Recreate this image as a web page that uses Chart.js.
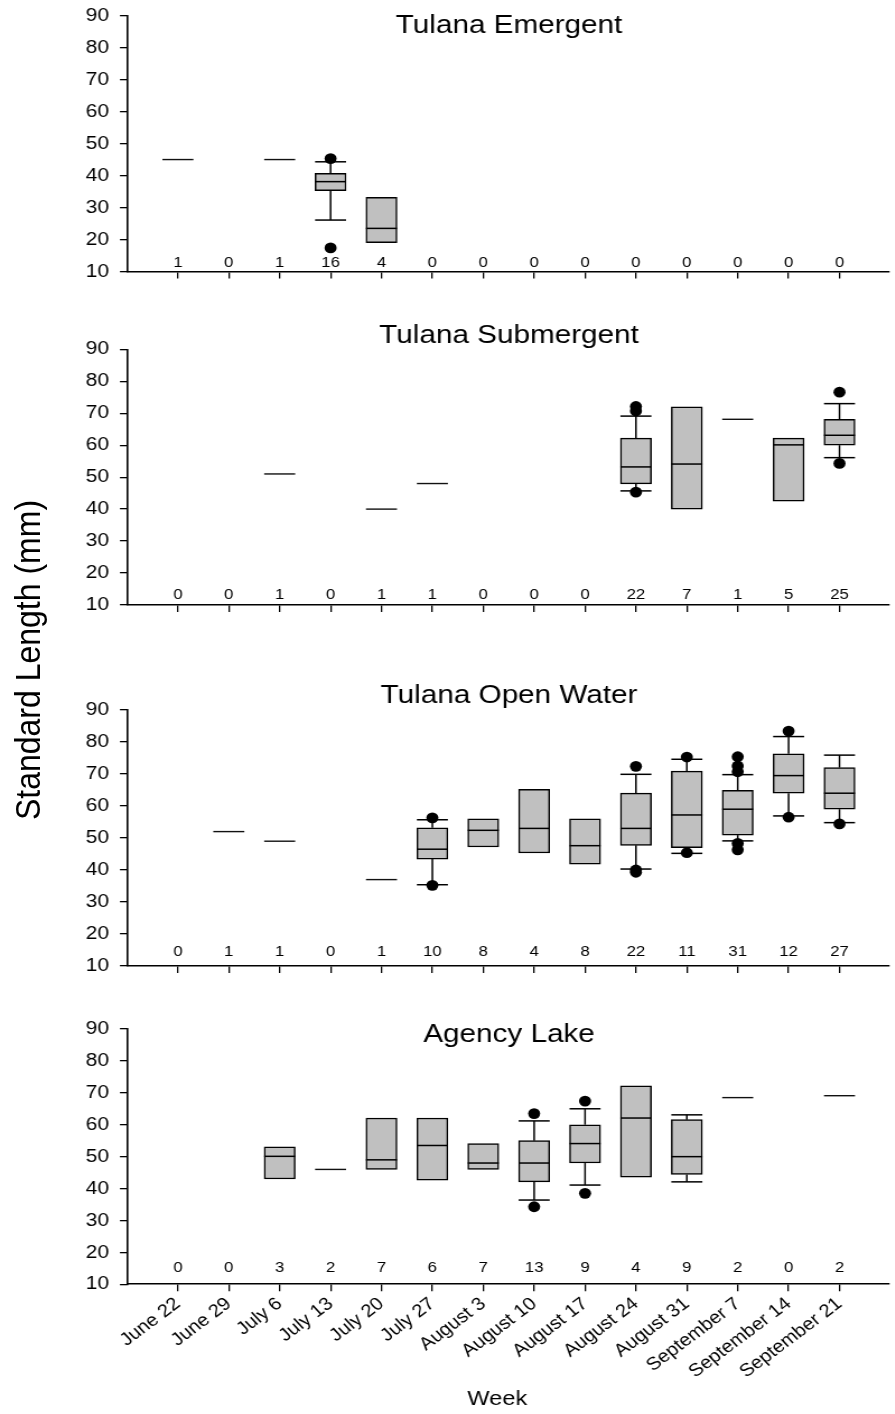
<!DOCTYPE html>
<html>
<head>
<meta charset="utf-8">
<title>Standard Length by Week</title>
<script src="https://cdn.jsdelivr.net/npm/chart.js@4.4.1/dist/chart.umd.min.js"></script>
<style>
  html, body { margin: 0; padding: 0; background: #fff; }
  body { width: 895px; height: 1414px; overflow: hidden; position: relative; }
  #wrap { position: absolute; left: 0; top: 0; width: 799px; height: 1414px;
          transform: scaleX(1.12); transform-origin: 0 0; }
  #wrap canvas { position: absolute; left: 0; }
  #ytitle { position: absolute; left: 25px; top: 660px; white-space: nowrap;
            font: 32px "Liberation Sans", Arial, sans-serif; color: #000;
            transform: translate(-50%, -50%) rotate(-90deg); }
</style>
</head>
<body>
<div id="wrap">
  <div id="ytitle">Standard Length (mm)</div>
</div>
<script>
// ---- data -------------------------------------------------------------
const weeks = ['June 22', 'June 29', 'July 6', 'July 13', 'July 20', 'July 27',
  'August 3', 'August 10', 'August 17', 'August 24', 'August 31',
  'September 7', 'September 14', 'September 21'];
const yTicks = [10, 20, 30, 40, 50, 60, 70, 80, 90];
const _ = null;

// Tulana Emergent
const emergentN      = [1, 0, 1, 16, 4, 0, 0, 0, 0, 0, 0, 0, 0, 0];
const emergentSingle = [45, _, 45, _, _, _, _, _, _, _, _, _, _, _];
const emergentLoW    = [_, _, _, 26.1, _, _, _, _, _, _, _, _, _, _];
const emergentQ1     = [_, _, _, 35.3, 19.0, _, _, _, _, _, _, _, _, _];
const emergentMed    = [_, _, _, 38.1, 23.5, _, _, _, _, _, _, _, _, _];
const emergentQ3     = [_, _, _, 40.7, 33.2, _, _, _, _, _, _, _, _, _];
const emergentHiW    = [_, _, _, 44.3, _, _, _, _, _, _, _, _, _, _];
const emergentOut    = [[3, 45.3], [3, 17.4]];

// Tulana Submergent
const submergentN      = [0, 0, 1, 0, 1, 1, 0, 0, 0, 22, 7, 1, 5, 25];
const submergentSingle = [_, _, 51.0, _, 40.0, 48.0, _, _, _, _, _, 68.1, _, _];
const submergentLoW    = [_, _, _, _, _, _, _, _, _, 45.7, _, _, _, 56.1];
const submergentQ1     = [_, _, _, _, _, _, _, _, _, 47.9, 40.0, _, 42.5, 60.0];
const submergentMed    = [_, _, _, _, _, _, _, _, _, 53.2, 54.1, _, 60.1, 63.1];
const submergentQ3     = [_, _, _, _, _, _, _, _, _, 62.2, 72.0, _, 62.2, 68.1];
const submergentHiW    = [_, _, _, _, _, _, _, _, _, 69.1, _, _, _, 73.0];
const submergentOut    = [[9, 72.1], [9, 70.7], [9, 45.3], [13, 76.6], [13, 54.3]];

// Tulana Open Water
const openN      = [0, 1, 1, 0, 1, 10, 8, 4, 8, 22, 11, 31, 12, 27];
const openSingle = [_, 52.0, 49.0, _, 37.0, _, _, _, _, _, _, _, _, _];
const openLoW    = [_, _, _, _, _, 35.4, _, _, _, 40.3, 45.2, 49.1, 56.9, 54.8];
const openQ1     = [_, _, _, _, _, 43.4, 47.2, 45.3, 41.8, 47.7, 47.0, 50.9, 64.0, 59.0];
const openMed    = [_, _, _, _, _, 46.5, 52.4, 53.0, 47.6, 53.0, 57.2, 59.0, 69.5, 64.0];
const openQ3     = [_, _, _, _, _, 53.2, 56.0, 65.2, 56.0, 64.0, 70.9, 64.9, 76.3, 72.0];
const openHiW    = [_, _, _, _, _, 55.7, _, _, _, 69.9, 74.6, 69.8, 81.7, 75.9];
const openOut    = [[5, 56.3], [5, 35.2], [9, 72.4], [9, 40.0], [9, 39.3],
  [10, 75.3], [10, 45.4], [11, 75.4], [11, 72.5], [11, 70.7], [11, 48.3], [11, 46.3],
  [12, 83.4], [12, 56.5], [13, 54.4]];

// Agency Lake
const agencyN      = [0, 0, 3, 2, 7, 6, 7, 13, 9, 4, 9, 2, 0, 2];
const agencySingle = [_, _, _, 46.0, _, _, _, _, _, _, _, 68.5, _, 69.1];
const agencyLoW    = [_, _, _, _, _, _, _, 36.4, 41.1, _, 42.1, _, _, _];
const agencyQ1     = [_, _, 43.0, _, 46.0, 42.6, 46.0, 42.1, 48.0, 43.6, 44.4, _, _, _];
const agencyMed    = [_, _, 50.1, _, 49.0, 53.5, 48.0, 48.0, 54.1, 62.1, 50.0, _, _, _];
const agencyQ3     = [_, _, 53.1, _, 62.1, 62.1, 54.1, 55.0, 60.0, 72.2, 61.6, _, _, _];
const agencyHiW    = [_, _, _, _, _, _, _, 61.2, 65.0, _, 63.1, _, _, _];
const agencyOut    = [[7, 63.5], [7, 34.3], [8, 67.4], [8, 38.5]];

// ---- layout -----------------------------------------------------------
const FONT = '"Liberation Sans", Arial, sans-serif';
const PAGE_H = 1414;
const CANVAS_W = 799;
const AXIS_LEFT = 113.4;       // width reserved for the y axis
const BOX_W = 27.7;            // box / cap / single-value line width
const X_MIN = -1, X_MAX = -1 + (CANVAS_W - AXIS_LEFT) / 45.8;
const X_TITLE = 'Week';

const panels = [
  { title: 'Tulana Emergent', top: 15.5, bottom: 271.6, titleDy: 17.2, countY: 12.7,
    n: emergentN, single: emergentSingle, loW: emergentLoW, q1: emergentQ1,
    med: emergentMed, q3: emergentQ3, hiW: emergentHiW, out: emergentOut },
  { title: 'Tulana Submergent', top: 349.3, bottom: 605, titleDy: -6.6, countY: 13.1,
    n: submergentN, single: submergentSingle, loW: submergentLoW, q1: submergentQ1,
    med: submergentMed, q3: submergentQ3, hiW: submergentHiW, out: submergentOut },
  { title: 'Tulana Open Water', top: 710, bottom: 966, titleDy: -6.7, countY: 14.4,
    n: openN, single: openSingle, loW: openLoW, q1: openQ1,
    med: openMed, q3: openQ3, hiW: openHiW, out: openOut },
  { title: 'Agency Lake', top: 1029, bottom: 1284.3, titleDy: 12.7, countY: 15.3,
    n: agencyN, single: agencySingle, loW: agencyLoW, q1: agencyQ1,
    med: agencyMed, q3: agencyQ3, hiW: agencyHiW, out: agencyOut, last: true }
];

Chart.defaults.font.family = FONT;
Chart.defaults.color = '#000';

// whiskers, medians, single-value lines, sample sizes and panel title
function panelPlugin(p, canvasTop) {
  const hline = (ctx, x0, x1, y) => { ctx.beginPath(); ctx.moveTo(x0, y); ctx.lineTo(x1, y); ctx.stroke(); };
  return {
    id: 'panelMarks',
    afterDatasetDraw(chart, args) {
      if (args.meta.type !== 'bar') return;
      const { ctx, scales: { x, y } } = chart;
      const h = BOX_W / 2;
      ctx.save();
      ctx.strokeStyle = '#000';
      ctx.lineWidth = 1.5;
      weeks.forEach((_w, i) => {
        if (p.q1[i] == null) return;
        const cx = x.getPixelForValue(i);
        if (p.hiW[i] != null) {
          ctx.beginPath(); ctx.moveTo(cx, y.getPixelForValue(p.q3[i]));
          ctx.lineTo(cx, y.getPixelForValue(p.hiW[i])); ctx.stroke();
          hline(ctx, cx - h, cx + h, y.getPixelForValue(p.hiW[i]));
        }
        if (p.loW[i] != null) {
          ctx.beginPath(); ctx.moveTo(cx, y.getPixelForValue(p.q1[i]));
          ctx.lineTo(cx, y.getPixelForValue(p.loW[i])); ctx.stroke();
          hline(ctx, cx - h, cx + h, y.getPixelForValue(p.loW[i]));
        }
        hline(ctx, cx - h, cx + h, y.getPixelForValue(p.med[i]));
      });
      ctx.restore();
    },
    afterDatasetsDraw(chart) {
      const { ctx, chartArea, scales: { x, y } } = chart;
      const h = BOX_W / 2;
      ctx.save();
      ctx.strokeStyle = '#111';
      ctx.lineWidth = 1.4;
      p.single.forEach((v, i) => {
        if (v == null) return;
        const cx = x.getPixelForValue(i);
        hline(ctx, cx - h, cx + h, y.getPixelForValue(v));
      });
      ctx.fillStyle = '#000';
      ctx.textAlign = 'center';
      ctx.textBaseline = 'middle';
      ctx.font = '15px ' + FONT;
      p.n.forEach((c, i) => ctx.fillText(String(c), x.getPixelForValue(i), y.getPixelForValue(p.countY)));
      ctx.font = '26.5px ' + FONT;
      ctx.textBaseline = 'alphabetic';
      ctx.fillText(p.title, (chartArea.left + chartArea.right) / 2 + 1, chartArea.top + p.titleDy);
      if (p.last) {
        ctx.font = '21px ' + FONT;
        ctx.textBaseline = 'middle';
        ctx.fillText(X_TITLE, 444, 1399 - canvasTop);
      }
      ctx.restore();
    }
  };
}

const wrap = document.getElementById('wrap');

panels.forEach(p => {
  const padTop = Math.min(40, p.top);
  const canvasTop = Math.floor(p.top - padTop);
  const areaTop = p.top - canvasTop;
  const areaBottom = p.bottom - canvasTop;
  const canvasH = Math.ceil(p.last ? PAGE_H - canvasTop : areaBottom + 12);
  const xAxisH = canvasH - areaBottom;

  const cv = document.createElement('canvas');
  cv.width = CANVAS_W; cv.height = canvasH;
  cv.style.width = CANVAS_W + 'px'; cv.style.height = canvasH + 'px';
  cv.style.top = canvasTop + 'px';
  wrap.appendChild(cv);

  const boxes = [];
  weeks.forEach((_w, i) => { if (p.q1[i] != null) boxes.push({ x: i, y: [p.q1[i], p.q3[i]] }); });

  new Chart(cv, {
    type: 'bar',
    data: {
      datasets: [
        { type: 'bar', data: boxes, order: 1,
          backgroundColor: '#c0c0c0', borderColor: '#000', borderWidth: 1.5,
          borderSkipped: false, barThickness: BOX_W },
        { type: 'scatter', data: p.out.map(([i, v]) => ({ x: i, y: v })), order: 0,
          pointRadius: 5.4, pointBackgroundColor: '#000', pointBorderColor: '#000',
          pointBorderWidth: 0, showLine: false }
      ]
    },
    options: {
      responsive: false,
      animation: false,
      events: [],
      layout: { padding: { top: areaTop, left: 0, right: 0, bottom: 0 } },
      plugins: { legend: { display: false }, tooltip: { enabled: false }, title: { display: false } },
      scales: {
        x: {
          type: 'linear', min: X_MIN, max: X_MAX, offset: false,
          grid: { offset: false, drawOnChartArea: false, color: '#000', lineWidth: 1.3, tickLength: 7 },
          border: { color: '#000', width: 1.6 },
          ticks: {
            display: !!p.last, autoSkip: false, includeBounds: false,
            font: { size: 18 }, color: '#000', padding: 2,
            minRotation: 40, maxRotation: 40,
            callback: v => weeks[v]
          },
          afterBuildTicks: s => { s.ticks = weeks.map((_w, i) => ({ value: i })); },
          afterFit: s => { s.height = xAxisH; s.paddingLeft = 0; s.paddingRight = 0; }
        },
        y: {
          type: 'linear', min: 10, max: 90, beginAtZero: false,
          grid: { drawOnChartArea: false, color: '#000', lineWidth: 1.3, tickLength: 6.3 },
          border: { color: '#000', width: 1.6 },
          ticks: { stepSize: 10, font: { size: 18.7 }, color: '#000', padding: 9.8 },
          afterBuildTicks: s => { s.ticks = yTicks.map(v => ({ value: v })); },
          afterFit: s => { s.width = AXIS_LEFT; s.paddingTop = 0; s.paddingBottom = 0; }
        }
      }
    },
    plugins: [panelPlugin(p, canvasTop)]
  });
});
</script>
</body>
</html>
